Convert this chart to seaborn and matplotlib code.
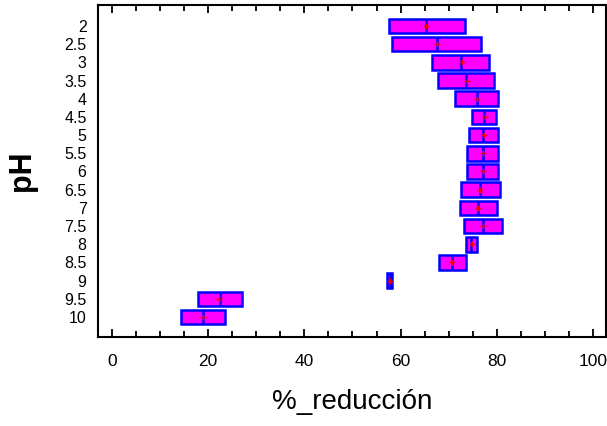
import matplotlib
matplotlib.use("Agg")
import numpy as np
import pandas as pd
import seaborn as sns
import matplotlib.pyplot as plt
from matplotlib.ticker import MultipleLocator
from matplotlib import font_manager

# pH levels and the box summaries of % reduction for each level
ph_levels = ["2", "2.5", "3", "3.5", "4", "4.5", "5", "5.5", "6",
             "6.5", "7", "7.5", "8", "8.5", "9", "9.5", "10"]
box_low = [57.6, 58.2, 66.5, 67.8, 71.3, 74.8, 74.2, 73.8, 73.8,
           72.6, 72.3, 73.2, 73.5, 68.0, 57.2, 17.9, 14.4]
box_median = [65.2, 67.5, 72.6, 73.6, 75.8, 77.4, 77.2, 77.0, 77.0,
              76.5, 76.1, 77.0, 74.6, 70.7, 57.8, 22.5, 18.9]
box_high = [73.3, 76.7, 78.3, 79.3, 80.3, 79.9, 80.3, 80.3, 80.3,
            80.6, 80.0, 81.0, 75.8, 73.6, 58.3, 27.0, 23.5]
group_mean = [65.3, 67.6, 72.7, 73.8, 75.9, 77.5, 77.4, 77.1, 77.1,
              76.4, 76.1, 77.1, 74.9, 70.7, 57.8, 22.3, 18.9]

# Long table whose quartiles reproduce low / median / high for each level
rows = []
for ph, lo, med, hi in zip(ph_levels, box_low, box_median, box_high):
    for v in (lo, lo, med, hi, hi):
        rows.append({"pH": ph, "reduccion": v})
df = pd.DataFrame(rows)

sns.set_theme(style="white")


def available(name):
    try:
        font_manager.findfont(font_manager.FontProperties(family=name),
                              fallback_to_default=False)
        return True
    except Exception:
        return False


fams = [f for f in ["Liberation Sans Narrow", "Liberation Sans", "DejaVu Sans"]
        if available(f)]
plt.rcParams["font.family"] = fams

fig = plt.figure(figsize=(6.07, 4.26), dpi=100)
ax = fig.add_axes([0.161, 0.209, 0.837, 0.779])

blue = "#0000FF"
sns.boxplot(data=df, x="reduccion", y="pH", order=ph_levels, orient="h",
            width=0.8, color="#FF00FF", linecolor=blue, linewidth=1.8,
            saturation=1, showcaps=False, whis=(0, 100), fliersize=0,
            medianprops=dict(color=blue, linewidth=1.8, zorder=4),
            ax=ax)

sns.scatterplot(x=group_mean, y=np.arange(len(ph_levels)), marker="+",
                color="#FF0000", s=16, linewidth=1.0, zorder=6, ax=ax)

ax.set_xlim(-2.9, 102.6)
ax.set_ylim(17.1, -1.15)

ax.xaxis.set_major_locator(MultipleLocator(20))
ax.xaxis.set_minor_locator(MultipleLocator(5))
ax.tick_params(axis="x", which="both", direction="in", top=True, bottom=True,
               color="black", width=1.3, labelsize=12.5, pad=12, labelcolor="black")
ax.tick_params(axis="x", which="major", length=6)
ax.tick_params(axis="x", which="minor", length=4)
ax.tick_params(axis="y", which="both", length=0, labelsize=11.5, pad=8,
               labelcolor="black")

for sp in ax.spines.values():
    sp.set_visible(True)
    sp.set_color("black")
    sp.set_linewidth(1.5)

ax.set_xlabel("%_reducción", fontsize=20, color="black", labelpad=15)
ax.set_ylabel("pH", fontsize=22, fontweight="bold", color="black")
ax.yaxis.set_label_coords(-0.12, 0.5)

fig.savefig("out.png", dpi=100, facecolor="white")
